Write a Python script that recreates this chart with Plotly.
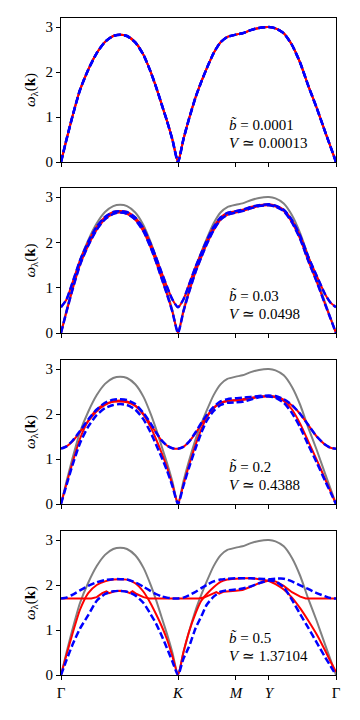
import plotly.graph_objects as go

# k-path coordinate (fraction of path length) and tick labels
T = [0, 0.02, 0.041, 0.069, 0.099, 0.13, 0.16, 0.19, 0.215, 0.24, 0.27, 0.30, 0.325, 0.345,
     0.365, 0.385, 0.405, 0.4255, 0.445, 0.465, 0.49, 0.51, 0.53, 0.555, 0.58, 0.605, 0.636,
     0.66, 0.69, 0.72, 0.756, 0.78, 0.81, 0.84, 0.87, 0.90, 0.93, 0.96, 0.98, 1.0]
tick_pos = [0, 0.4255, 0.636, 0.756, 1.0]
tick_text = ["Γ", "<i>K</i>", "<i>M</i>", "<i>Y</i>", "Γ"]

# bare (b=0) dispersion, grey
w_bare = [0, 0.5, 1.0, 1.6, 2.05, 2.42, 2.67, 2.80, 2.83, 2.80, 2.66, 2.38, 2.02, 1.68,
          1.3, 0.92, 0.5, 0, 0.5, 0.95, 1.45, 1.78, 2.08, 2.42, 2.66, 2.78, 2.83,
          2.86, 2.93, 2.98, 3.0, 2.97, 2.86, 2.6, 2.2, 1.68, 1.2, 0.68, 0.34, 0]

# panel 1: b=0.0001
p1_low = [0, 0.5, 1.0, 1.6, 2.05, 2.42, 2.67, 2.80, 2.83, 2.80, 2.66, 2.38, 2.02, 1.68,
          1.3, 0.92, 0.5, 0, 0.5, 0.95, 1.45, 1.78, 2.08, 2.42, 2.66, 2.78, 2.83,
          2.86, 2.93, 2.98, 3.0, 2.97, 2.86, 2.6, 2.2, 1.68, 1.2, 0.68, 0.34, 0]

# panel 2: b=0.03
p2_low = [0, 0.47, 0.94, 1.5, 1.93, 2.28, 2.51, 2.63, 2.66, 2.63, 2.5, 2.24, 1.9, 1.58,
          1.22, 0.86, 0.47, 0, 0.47, 0.89, 1.36, 1.67, 1.96, 2.27, 2.5, 2.61, 2.66,
          2.69, 2.75, 2.8, 2.82, 2.79, 2.69, 2.44, 2.07, 1.58, 1.13, 0.64, 0.32, 0]
p2_up = [0.57, 0.74, 1.1, 1.6, 2.01, 2.35, 2.56, 2.67, 2.69, 2.67, 2.55, 2.31, 1.98, 1.68,
         1.35, 1.03, 0.74, 0.57, 0.74, 1.06, 1.47, 1.76, 2.04, 2.34, 2.55, 2.65, 2.69,
         2.72, 2.78, 2.82, 2.84, 2.81, 2.72, 2.49, 2.14, 1.67, 1.26, 0.86, 0.67, 0.57]

# panel 3: b=0.2
p3_red_low = [0, 0.45, 0.9, 1.45, 1.85, 2.1, 2.22, 2.27, 2.28, 2.26, 2.18, 1.98, 1.72, 1.45,
              1.15, 0.82, 0.43, 0, 0.43, 0.85, 1.33, 1.66, 1.93, 2.14, 2.25, 2.29, 2.3,
              2.31, 2.34, 2.38, 2.39, 2.37, 2.29, 2.1, 1.78, 1.38, 0.98, 0.56, 0.28, 0]
p3_red_up = [1.23, 1.28, 1.39, 1.6, 1.84, 2.06, 2.2, 2.28, 2.3, 2.28, 2.19, 2.0, 1.78, 1.59,
             1.42, 1.3, 1.24, 1.23, 1.27, 1.38, 1.58, 1.77, 1.95, 2.13, 2.24, 2.29, 2.31,
             2.33, 2.36, 2.39, 2.4, 2.39, 2.32, 2.19, 2.0, 1.75, 1.5, 1.32, 1.25, 1.23]
p3_blue_low = [0, 0.42, 0.85, 1.35, 1.72, 1.98, 2.13, 2.2, 2.22, 2.2, 2.1, 1.88, 1.6, 1.33,
               1.05, 0.75, 0.4, 0, 0.4, 0.8, 1.25, 1.58, 1.85, 2.07, 2.2, 2.25, 2.26,
               2.27, 2.32, 2.37, 2.39, 2.36, 2.25, 2.02, 1.7, 1.3, 0.92, 0.52, 0.26, 0]
p3_blue_up = [1.23, 1.28, 1.4, 1.62, 1.88, 2.1, 2.25, 2.32, 2.33, 2.31, 2.22, 2.02, 1.8, 1.6,
              1.42, 1.3, 1.24, 1.23, 1.27, 1.38, 1.6, 1.8, 1.98, 2.16, 2.28, 2.33, 2.35,
              2.36, 2.38, 2.4, 2.41, 2.4, 2.33, 2.2, 2.0, 1.75, 1.5, 1.32, 1.25, 1.23]

# panel 4: b=0.5
p4_red_low = [0, 0.45, 0.9, 1.45, 1.82, 2.0, 2.08, 2.12, 2.13, 2.12, 2.04, 1.85, 1.6, 1.36,
              1.1, 0.8, 0.42, 0, 0.5, 0.95, 1.38, 1.65, 1.8, 1.95, 2.07, 2.12, 2.14,
              2.15, 2.15, 2.13, 2.09, 2.02, 1.9, 1.72, 1.48, 1.2, 0.9, 0.55, 0.3, 0.07]
T4_red_gap = [0, 0.11, 0.13, 0.15, 0.165, 0.175, 0.195, 0.215, 0.235, 0.25, 0.26, 0.275,
              0.30, 0.32, 0.4255, 0.50, 0.52, 0.545, 0.565, 0.575, 0.59, 0.636, 0.66, 0.69,
              0.72, 0.756, 0.78, 0.81, 0.84, 0.87, 0.89, 1.0]
p4_red_gap = [1.7, 1.7, 1.73, 1.82, 1.86, 1.82, 1.86, 1.87, 1.86, 1.82, 1.86, 1.80,
              1.73, 1.7, 1.7, 1.7, 1.72, 1.79, 1.84, 1.81, 1.85, 1.87, 1.89, 1.96,
              2.04, 2.1, 2.08, 1.98, 1.84, 1.74, 1.7, 1.7]
p4_blue_low = [0, 0.33, 0.66, 1.03, 1.33, 1.65, 1.8, 1.86, 1.87, 1.85, 1.77, 1.6, 1.36, 1.15,
               0.89, 0.6, 0.3, 0, 0.36, 0.62, 1.05, 1.3, 1.56, 1.74, 1.85, 1.88, 1.9,
               1.92, 1.97, 2.04, 2.1, 2.08, 1.95, 1.67, 1.35, 1.04, 0.72, 0.4, 0.2, 0]
p4_blue_up = [1.7, 1.72, 1.78, 1.88, 1.98, 2.06, 2.11, 2.13, 2.13, 2.12, 2.06, 1.96, 1.87, 1.8,
              1.75, 1.72, 1.7, 1.7, 1.72, 1.77, 1.85, 1.93, 2.0, 2.08, 2.12, 2.14, 2.15,
              2.15, 2.15, 2.14, 2.13, 2.14, 2.14, 2.08, 1.99, 1.91, 1.82, 1.75, 1.71, 1.7]

b_labels = ["0.0001", "0.03", "0.2", "0.5"]
V_labels = ["0.00013", "0.0498", "0.4388", "1.37104"]

panels = [
    {"red": [(T, p1_low), (T, p1_low)], "blue": [(T, p1_low), (T, p1_low)]},
    {"red": [(T, p2_low), (T, p2_up)], "blue": [(T, p2_low), (T, p2_up)]},
    {"red": [(T, p3_red_low), (T, p3_red_up)], "blue": [(T, p3_blue_low), (T, p3_blue_up)]},
    {"red": [(T, p4_red_low), (T4_red_gap, p4_red_gap)], "blue": [(T, p4_blue_low), (T, p4_blue_up)]},
]

# the page body has an 8px margin, so the figure is drawn 8px right and down
OFF = 8
W, H = 360 - OFF, 720 - OFF
ml, mr, mt, mb = 61 - OFF, 24, 18 - OFF, 45
ph = H - mt - mb
# panel pixel extents in the page (top, bottom)
pix = [(18, 162), (188, 333), (360, 504), (531, 675)]
domains = [[(675 - b) / ph, (675 - t) / ph] for t, b in pix]

FONT = "Liberation Serif"
fig = go.Figure()
layout = {}
annotations = []
for i, p in enumerate(panels):
    n = i + 1
    xa = "x" if n == 1 else f"x{n}"
    ya = "y" if n == 1 else f"y{n}"
    fig.add_trace(go.Scatter(x=T, y=w_bare, mode="lines", line=dict(color="#808080", width=2, shape="spline", smoothing=0.6),
                             xaxis=xa, yaxis=ya, showlegend=False, hoverinfo="skip"))
    for xs, ys in p["red"]:
        shp = "linear" if xs is T4_red_gap else "spline"
        fig.add_trace(go.Scatter(x=xs, y=ys, mode="lines", line=dict(color="red", width=2, shape=shp, smoothing=0.6),
                                 xaxis=xa, yaxis=ya, showlegend=False, hoverinfo="skip"))
    for xs, ys in p["blue"]:
        fig.add_trace(go.Scatter(x=xs, y=ys, mode="lines", line=dict(color="blue", width=2.5, dash="7px,3px", shape="spline", smoothing=0.6),
                                 xaxis=xa, yaxis=ya, showlegend=False, hoverinfo="skip"))
    xkey = "xaxis" if n == 1 else f"xaxis{n}"
    ykey = "yaxis" if n == 1 else f"yaxis{n}"
    layout[xkey] = dict(domain=[0, 1], anchor=ya, range=[0, 1], tickmode="array", tickvals=tick_pos,
                        ticktext=tick_text, showticklabels=(n == 4), ticks="outside", ticklen=4,
                        tickcolor="black", showline=True, linecolor="black", linewidth=1, mirror=True,
                        showgrid=False, zeroline=False, tickfont=dict(family=FONT, size=15, color="black"))
    layout[ykey] = dict(domain=domains[i], anchor=xa, range=[0, 3.2], tickmode="array", tickvals=[0, 1, 2, 3],
                        ticks="outside", ticklen=4, tickcolor="black", showline=True, linecolor="black",
                        linewidth=1, mirror=True, showgrid=False, zeroline=False,
                        tickfont=dict(family=FONT, size=15, color="black"),
                        title=dict(text="<i>ω</i><sub>λ</sub>(<b>k</b>)", font=dict(family=FONT, size=15, color="black"), standoff=6))
    annotations.append(dict(x=0.604, y=0.82, xref=xa, yref=ya, xanchor="left", yanchor="middle", showarrow=False,
                            text="<i>b̃</i> = " + b_labels[i], font=dict(family=FONT, size=15, color="black")))
    annotations.append(dict(x=0.604, y=0.42, xref=xa, yref=ya, xanchor="left", yanchor="middle", showarrow=False,
                            text="<i>V</i> ≃ " + V_labels[i], font=dict(family=FONT, size=15, color="black")))

fig.update_layout(width=W, height=H, margin=dict(l=ml, r=mr, t=mt, b=mb), plot_bgcolor="white",
                  paper_bgcolor="white", annotations=annotations, **layout)
fig.write_html("out.html")
